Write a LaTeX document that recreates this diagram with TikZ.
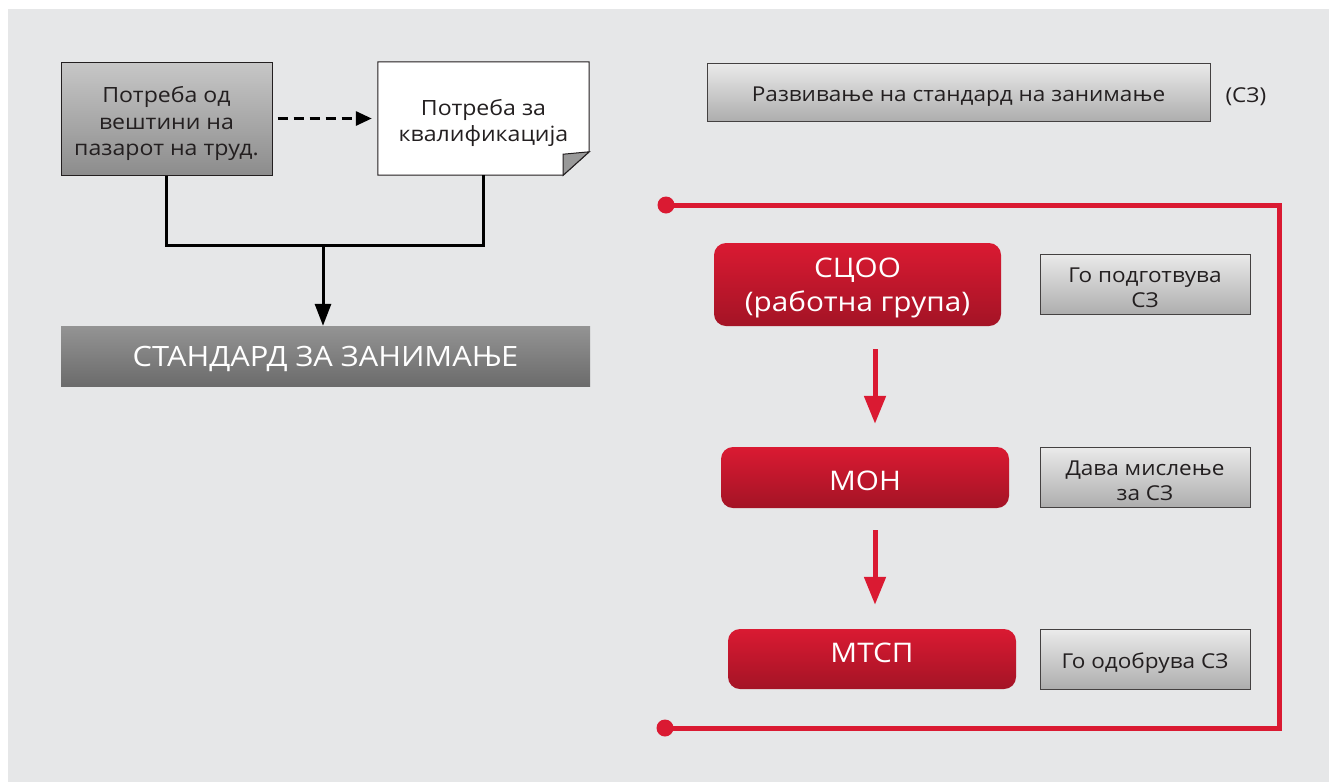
\documentclass[tikz,border=0pt]{standalone}
\usepackage{fontspec}
\setmainfont{Open Sans}[FakeStretch=1.1]
\usetikzlibrary{arrows.meta}
\usetikzlibrary{calc}

\definecolor{bgrey}{HTML}{E6E7E8}
\definecolor{sred}{HTML}{DA1A32}
\definecolor{txt}{HTML}{231F20}

\tikzset{
  greybox/.style={draw=txt, line width=1pt, top color=black!22, bottom color=black!45, inner sep=0pt},
  lightbox/.style={draw=txt!85, line width=1pt, top color=black!8, bottom color=black!32, inner sep=0pt},
  stdbox/.style={top color=black!42, bottom color=black!58, inner sep=0pt},
  redbox/.style={rounded corners=12pt, top color=sred, bottom color=sred!75!black, inner sep=0pt},
  darktxt/.style={text=txt, align=center, font=\fontsize{21}{26.5}\selectfont},
  smalltxt/.style={text=txt, align=center, font=\fontsize{20.5}{25}\selectfont},
  stdtxt/.style={text=white, font=\fontsize{28}{30}\selectfont},
  redtxt/.style={text=white, align=center, font=\fontsize{27}{34}\selectfont},
  conn/.style={line width=3pt, black},
  redline/.style={line width=5pt, sred},
  redarrow/.style={line width=5pt, sred, -{Triangle[length=28pt,width=21pt]}}
}

\begin{document}
\begin{tikzpicture}[x=1pt,y=-1pt]
\useasboundingbox (0,0) rectangle (1329,782);
\fill[white] (0,0) rectangle (1329,782);
\fill[bgrey] (8,9) rectangle (1329,782);

% left part
\node[greybox, minimum width=211pt, minimum height=113pt,
  label={[darktxt, yshift=-5pt]center:{Потреба од\\вештини на\\пазарот на труд.}}] (need) at (166.5,118.5) {};
\node[minimum width=211pt, minimum height=113pt, inner sep=0pt] (qual) at (483.5,118.5) {};
\draw[txt, line width=1pt, fill=white] (qual.north west) -- (qual.north east) -- ++(0,90) -- ($(qual.south east)+(-26,0)$) -- (qual.south west) -- cycle;
\filldraw[txt, line width=1pt, fill=black!40] ($(qual.south east)+(-26,-21)$) -- ($(qual.north east)+(0,90)$) -- ($(qual.south east)+(-26,0)$) -- cycle;
\node[darktxt] (qualtext) at (483.5,123) {Потреба за\\квалификација};

\draw[conn, dash pattern=on 10pt off 6pt, -{Triangle[length=16pt,width=14pt]}, shorten <=5pt, shorten >=6pt] (need) -- (qual);

\coordinate (mid) at (323,245);
\node[stdbox, minimum width=529pt, minimum height=60pt,
  label={[stdtxt, yshift=-3pt]center:СТАНДАРД ЗА ЗАНИМАЊЕ}] (std) at (325.5,356) {};
\draw[conn] (need.south) |- (mid) -| (qual.south);
\draw[conn, -{Triangle[length=22pt,width=16pt]}] (mid) -- (mid |- std.north);

% right part
\node[lightbox, minimum width=503pt, minimum height=58pt,
  label={[smalltxt, yshift=-5pt]center:Развивање на стандард на занимање}] (razv) at (958.5,92) {};
\node[smalltxt, anchor=west] (sz) at (1222,97) {(СЗ)};

\coordinate (d1) at (666,205);
\coordinate (d2) at (665,728);
\coordinate (rc) at (1279,466);
\draw[redline] (d1) -| (rc) |- (d2);
\fill[sred] (d1) circle (8.5pt);
\fill[sred] (d2) circle (8.5pt);

\node[redbox, minimum width=287pt, minimum height=83pt,
  label={[redtxt, yshift=-3.5pt]center:{СЦОО\\(работна група)}}] (scoo) at (857.5,284.5) {};
\node[redbox, minimum width=288pt, minimum height=61pt,
  label={[redtxt, yshift=-3.5pt]center:МОН}] (mon) at (865,477.5) {};
\node[redbox, minimum width=288pt, minimum height=60pt,
  label={[redtxt, yshift=6.5pt]center:МТСП}] (mtsp) at (872,659) {};

\node[lightbox, minimum width=210pt, minimum height=60pt,
  label={[smalltxt, yshift=-4pt]center:{Го подготвува\\СЗ}}] (prep) at (1145,284) {};
\node[lightbox, minimum width=210pt, minimum height=60pt,
  label={[smalltxt, yshift=-3.5pt]center:{Дава мислење\\за СЗ}}] (opin) at (1145,477) {};
\node[lightbox, minimum width=210pt, minimum height=60pt,
  label={[smalltxt, yshift=-4pt]center:Го одобрува СЗ}] (appr) at (1145,659) {};

\draw[redarrow, shorten <=23pt, shorten >=23pt] ([xshift=17.5pt]scoo.south) -- ([xshift=10pt]mon.north);
\draw[redarrow, shorten <=22pt, shorten >=24pt] ([xshift=10pt]mon.south) -- ([xshift=3pt]mtsp.north);
\end{tikzpicture}
\end{document}
